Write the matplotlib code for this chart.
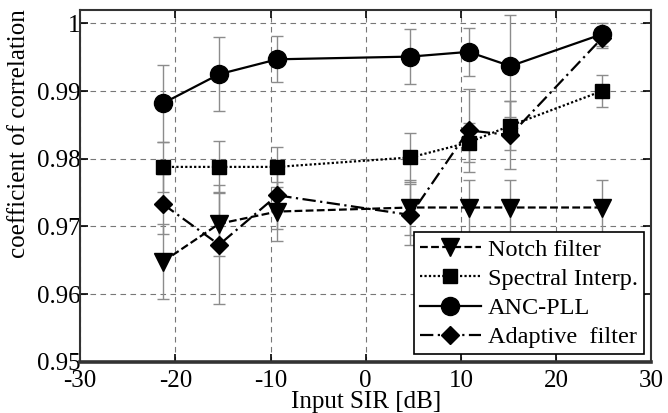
import matplotlib
matplotlib.use("Agg")
import matplotlib.pyplot as plt

plt.rcParams['font.family'] = ['Liberation Serif', 'DejaVu Serif']
plt.rcParams['axes.unicode_minus'] = False

sir = [-21.3, -15.4, -9.3, 4.7, 10.8, 15.2, 24.8]

notch = [0.9648, 0.9704, 0.9722, 0.9728, 0.9728, 0.9728, 0.9728]
notch_err = [0.0055, 0.0047, 0.0044, 0.0040, 0.0040, 0.0040, 0.0040]

spectral = [0.9788, 0.9788, 0.9788, 0.9802, 0.9824, 0.9849, 0.9900]
spectral_err = [0.0037, 0.0038, 0.0030, 0.0036, 0.0029, 0.0036, 0.0024]

anc = [0.9882, 0.9925, 0.9947, 0.9951, 0.9958, 0.9937, 0.9984]
anc_err = [0.0057, 0.0055, 0.0034, 0.0041, 0.0035, 0.0075, 0.0017]

adaptive = [0.9733, 0.9673, 0.9746, 0.9717, 0.9842, 0.9835, 0.9978]
adaptive_err = [0.0044, 0.0088, 0.0050, 0.0045, 0.0061, 0.0050, 0.0015]

labels = ['Notch filter', 'Spectral Interp.', 'ANC-PLL', 'Adaptive  filter']

fig = plt.figure(figsize=(6.68, 4.13), dpi=100)
ax = fig.add_axes([0.12, 0.124, 0.855, 0.852])

series = [
    (notch, notch_err, 'v', 13, (0, (3.5, 1.5)), labels[0]),
    (spectral, spectral_err, 's', 10, (0, (1, 1)), labels[1]),
    (anc, anc_err, 'o', 13, '-', labels[2]),
    (adaptive, adaptive_err, 'D', 9, (0, (6, 2, 1, 2)), labels[3]),
]

handles = []
for y, e, m, ms, ls, lab in series:
    ax.errorbar(sir, y, yerr=e, fmt='none', ecolor='#8c8c8c', elinewidth=1.0,
                capsize=4.5, capthick=1.0, zorder=2)
    h, = ax.plot(sir, y, color='black', linestyle=ls, linewidth=1.6,
                 marker=m, markersize=ms, markerfacecolor='black',
                 markeredgecolor='black', label=lab, zorder=3)
    handles.append(h)

ax.set_xlim(-30, 30)
ax.set_ylim(0.95, 1.002)
ax.set_xticks([-30, -20, -10, 0, 10, 20, 30])
ax.set_yticks([0.95, 0.96, 0.97, 0.98, 0.99, 1.0])
ax.set_yticklabels(['0.95', '0.96', '0.97', '0.98', '0.99', '1'])
ax.grid(True, color='#777777', linestyle=(0, (5, 4)), linewidth=0.8)
ax.tick_params(direction='in', top=True, right=True, length=6, width=1.2,
               labelsize=18, colors='black')
ax.tick_params(axis='x', pad=6)
ax.tick_params(axis='y', pad=0)
for s in ax.spines.values():
    s.set_linewidth(1.5)
    s.set_color('#333333')
ax.spines['bottom'].set_linewidth(2.6)

ax.set_xlabel('Input SIR [dB]', fontsize=18, labelpad=-1)
ax.set_ylabel('coefficient of correlation', fontsize=18)
ax.yaxis.set_label_coords(-0.088, 0.648)

leg = ax.legend(handles=handles, loc='lower right', fontsize=17.5, frameon=True,
                fancybox=False, edgecolor='black', framealpha=1,
                handlelength=2.5, handletextpad=0.3, borderpad=0.25,
                labelspacing=0.3, borderaxespad=0.3)
leg.get_frame().set_linewidth(1.2)

fig.savefig('out.png', dpi=100)
